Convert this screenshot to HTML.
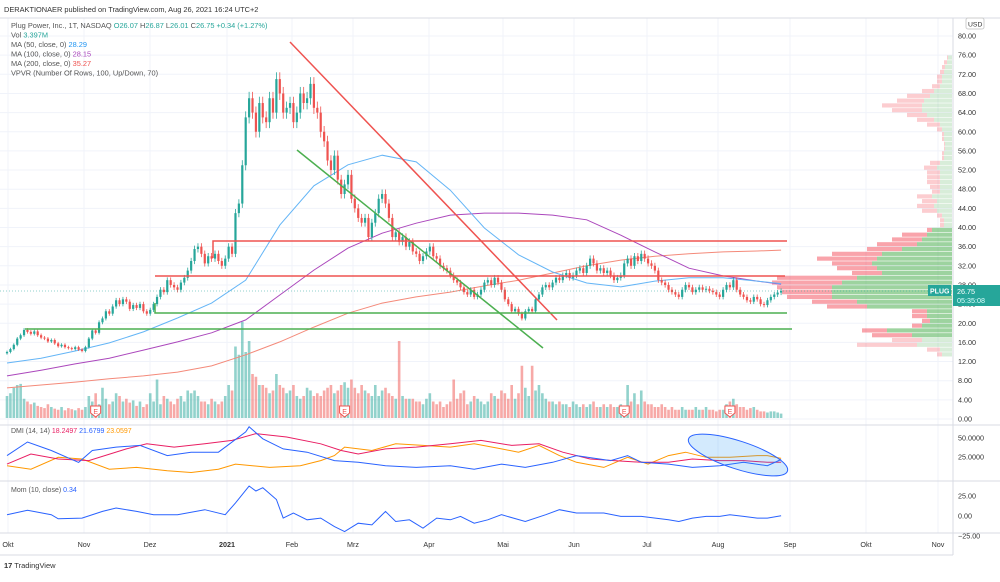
<!DOCTYPE html>
<html><head><meta charset="utf-8"><style>
body{margin:0;background:#fff;font-family:"Liberation Sans",sans-serif}
svg text{font-family:"Liberation Sans",sans-serif}
</style></head><body>
<svg id="c" width="1000" height="577" viewBox="0 0 1000 577" xmlns="http://www.w3.org/2000/svg">
<rect width="1000" height="577" fill="#fff"/>
<text x="4" y="12" font-size="7.4" fill="#333">DERAKTIONAER published on TradingView.com, Aug 26, 2021 16:24 UTC+2</text>
<g id="grid"></g>
<g id="vp"></g>
<g id="vol"></g>
<g id="ma"></g>
<g id="candles"></g>
<g fill="none" stroke-width="1.5">
<line x1="290" y1="42" x2="557" y2="320" stroke="#ef5350"/>
<line x1="297" y1="150" x2="543" y2="348" stroke="#4caf50"/>
<polyline points="213,258 213,241 787,241" stroke="#ef5350"/>
<polyline points="155,276 785,276" stroke="#ef5350"/>
<polyline points="155,303 155,313 787,313" stroke="#4caf50"/>
<polyline points="25,329 792,329" stroke="#4caf50"/>
</g>
<g id="earn"></g>
<g font-size="7.4">
<text x="11" y="28" fill="#555">Plug Power, Inc., 1T, NASDAQ  <tspan fill="#26a69a">O26.07</tspan> <tspan fill="#555">H</tspan><tspan fill="#26a69a">26.87</tspan> <tspan fill="#555">L</tspan><tspan fill="#26a69a">26.01</tspan> <tspan fill="#555">C</tspan><tspan fill="#26a69a">26.75  +0.34 (+1.27%)</tspan></text>
<text x="11" y="37.5" fill="#555">Vol  <tspan fill="#26a69a">3.397M</tspan></text>
<text x="11" y="47" fill="#555">MA (50, close, 0)  <tspan fill="#2196f3">28.29</tspan></text>
<text x="11" y="56.5" fill="#555">MA (100, close, 0)  <tspan fill="#ab47bc">28.15</tspan></text>
<text x="11" y="66" fill="#555">MA (200, close, 0)  <tspan fill="#ef5350">35.27</tspan></text>
<text x="11" y="75.5" fill="#555">VPVR (Number Of Rows, 100, Up/Down, 70)</text>
</g>
<g id="axis" font-size="7.2" fill="#333"></g>
<rect x="966" y="18" width="18" height="11" rx="2" fill="#fff" stroke="#ccc"/>
<text x="968" y="26.5" font-size="6.8" fill="#333">USD</text>
<g>
<line x1="0" y1="291" x2="952" y2="291" stroke="#26a69a" stroke-dasharray="1,2" stroke-width="0.6"/>
<rect x="928" y="285" width="23" height="11" fill="#26a69a"/><text x="930" y="293.5" font-size="7" fill="#fff" font-weight="bold">PLUG</text>
<rect x="953" y="285" width="47" height="21" fill="#26a69a"/><text x="957" y="294" font-size="7.2" fill="#fff">26.75</text><text x="957" y="303" font-size="7.2" fill="#dff">05:35:08</text>
</g>
<g id="dmi"></g>
<ellipse cx="738" cy="455" rx="52" ry="14" transform="rotate(18 738 455)" fill="rgba(33,150,243,0.2)" stroke="#2962ff" stroke-width="1"/>
<text x="11" y="433" font-size="7" fill="#555">DMI (14, 14)  <tspan fill="#e91e63">18.2497</tspan>  <tspan fill="#2962ff">21.6799</tspan>  <tspan fill="#ff9800">23.0597</tspan></text>
<g id="mom"></g>
<text x="11" y="492" font-size="7" fill="#555">Mom (10, close)  <tspan fill="#2962ff">0.34</tspan></text>
<g id="time" font-size="7.2" fill="#333"></g>
<text x="4" y="568" font-size="7.5" fill="#333"><tspan font-weight="bold">17</tspan> TradingView</text>
</svg>
<script>
const closes=[14.0,14.6,15.5,16.8,17.5,18.6,18.2,17.8,18.3,17.5,17.0,16.8,16.2,16.5,15.8,15.2,15.5,15.0,14.8,14.6,15.0,14.5,14.2,15.0,16.8,18.5,18.0,20.2,21.0,22.5,22.0,23.5,24.8,24.0,25.0,24.5,23.0,23.8,23.2,24.0,22.5,22.0,22.8,24.0,25.5,27.0,26.5,29.0,28.0,27.5,27.0,28.5,29.5,31.0,33.0,35.5,36.0,34.5,32.5,34.0,33.5,34.5,33.0,32.0,33.5,36.0,34.5,43,45,53,63,67,64,60,66,63,62,67,64,71,68,64,65,66,62,64,68,66,67,70,65,64,60,58,54,52,55,50,47,49,51,46,44,42,41,42,38,41,43,46,47,45,42,38,39,37,38,36,37,35,34.5,33,34,35,36,34,33.5,32,31.5,31,30,29,28.5,27.5,26.5,26,27,25.5,26,27,28.5,29,28,29.5,28.5,27,25,24,22.5,23,22,21,22.5,23,22.5,25,26,27.5,28,27.5,28.5,29.5,29,30,30.5,29.5,30,31,31.5,30.5,32,33.5,32.5,31,31.5,30.5,31,30,29,29.5,30,32.5,33.5,32,34,33,34.5,33.5,32.5,32,31,29,28.5,28,27,26.5,26,25.5,27,28,27.5,26.5,27,27.5,27,27.2,26.8,26.5,26,25.5,27,28,27.5,29,27,26,25.5,24.8,24.5,25.5,25,24,23.8,24.8,25.5,26,26.41,26.75];
const volumes=[40,45,55,60,62,35,30,25,28,22,20,18,25,20,17,15,20,14,18,16,14,18,15,20,40,30,45,25,55,35,25,30,45,40,30,35,28,32,22,30,20,25,45,30,70,25,40,35,30,25,35,40,30,50,45,50,40,30,30,25,35,30,25,30,40,60,50,130,115,175,120,140,80,75,60,60,55,45,50,80,60,55,45,50,60,40,35,40,55,50,40,45,40,50,55,60,45,50,60,65,55,70,55,45,60,50,45,40,60,40,50,55,45,40,35,140,40,35,35,35,30,30,25,35,45,30,25,30,20,25,30,70,35,45,50,25,30,40,35,30,25,30,45,40,35,50,45,35,60,35,45,95,55,40,95,50,60,45,35,30,30,25,30,25,25,20,30,25,20,25,20,25,30,20,20,25,20,25,20,20,25,20,60,30,45,25,50,30,25,25,20,20,25,20,15,20,15,15,20,15,15,15,20,15,15,20,15,15,12,15,15,25,30,35,25,20,20,15,18,20,15,12,12,10,12,12,10,8];
const maDays=[0,10,20,30,40,50,60,70,80,90,100,110,120,130,140,150,160,170,180,190,200,210,220,227];
const ma50=[11.7,12.7,14.2,15.9,18.2,21.1,24.2,29.0,40.5,48.7,53.1,55.1,53.7,47.8,39.9,34.3,30.7,28.4,27.6,28.8,29.5,29.5,28.8,28.29];
const ma100=[9.0,10.2,11.5,12.7,14.4,16.1,18.0,20.7,25.9,31.1,35.7,38.8,40.9,42.6,43.0,43.0,42.6,41.6,38.4,34.9,31.5,29.9,28.8,28.15];
const ma200=[6.5,7.1,7.7,8.4,9.0,9.8,11.1,13.4,16.1,19.2,22.1,24.2,25.5,26.5,27.8,29.0,30.5,32.0,33.2,34.0,34.5,34.9,35.1,35.27];
const vpPrices=[13,14,15,16,17,18,19,20,21,22,23,24,25,26,27,28,29,30,31,32,33,34,35,36,37,38,39,40,41,42,43,44,45,46,47,48,49,50,51,52,53,54,55,56,57,58,59,60,61,62,63,64,65,66,67,68,69,70,71,72,73,74,75];
const vpUp=[10,12,35,30,40,65,30,22,25,25,85,95,120,120,120,110,95,70,75,80,75,70,50,35,30,25,20,8,8,10,15,18,15,20,12,12,12,12,12,15,12,8,8,7,7,8,8,10,12,18,25,30,30,28,22,18,12,10,10,8,7,5,4];
const vpDown=[5,13,60,30,40,25,10,8,15,15,40,45,45,50,55,70,80,30,40,40,60,50,35,40,30,25,5,4,4,5,15,17,15,15,8,10,13,13,13,13,10,2,2,1,1,2,2,5,13,17,20,30,40,27,23,12,8,5,5,4,3,3,1];
const dmiBlueDays=[0,6,13,21,25,32,39,47,54,62,70,71,75,81,88,96,103,111,120,130,137,145,152,160,167,177,182,186,194,201,209,216,223,227];
const dmiBlue=[26.8,44.7,33.5,17.9,33.5,38,40.2,26.8,31.3,31.3,58,64.7,49,35.7,31.3,20.2,18,13.5,11.3,13.5,9,15.7,11.3,18,26.8,20.2,26.8,18,15.7,11.3,13.5,18,13.5,21.7];
const dmiPinkDays=[0,7,15,24,35,41,49,58,66,73,82,92,98,103,111,120,130,139,148,156,163,171,178,186,194,201,209,216,223,227];
const dmiPink=[15.7,29,22.4,20.2,35.7,42.4,38,42.4,46.9,55.8,51.3,42.4,33.5,29,35.7,38,42.4,46.9,40.2,42.4,31.3,22.4,20.2,18,18,22.4,20.2,20.2,18,18.2];
const dmiOrangeDays=[0,7,15,22,30,38,47,54,62,67,77,86,92,96,99,107,114,122,130,137,145,150,156,162,167,175,182,188,194,199,205,212,220,223,227];
const dmiOrange=[13.5,9,24.6,22.4,9,11.3,6.8,4.6,9,15.7,11.3,13.5,20.2,26.8,38,33.5,42.4,40.2,38,42.4,35.7,31.3,40.2,26.8,18,11.3,24.6,15.7,26.8,31.3,24.6,24.6,26.8,26.8,23.1];
const momDays=[0,6,13,15,22,28,32,38,43,50,58,64,67,71,73,75,79,81,84,88,92,96,99,103,107,111,114,118,122,126,130,133,137,141,145,152,158,162,167,175,180,186,194,197,201,205,209,212,216,220,223,227];
const momVals=[1.6,7.1,1.6,-3.5,-2.6,5.8,10,5.8,1.6,1.6,7.9,1.6,16.4,37.5,31.2,35.4,20.6,-2.6,3.7,-4.8,-2.6,-13.2,-19.5,-9,-11.1,5.8,-6.9,-4.8,-15.3,-2.6,-4.8,-0.5,-9,-4.8,1.6,-6.9,1.6,7.9,3.7,3.7,-0.5,-0.5,-4.8,-6.9,-2.6,-0.5,-0.5,1.6,-0.5,-2.6,-2.6,0.34];
const priceTicks=[0,4,8,12,16,20,24,28,32,36,40,44,48,52,56,60,64,68,72,76,80];
const monthLabels=["Okt","Nov","Dez","2021","Feb","Mrz","Apr","Mai","Jun","Jul","Aug","Sep","Okt","Nov"];
const monthX=[8,84,150,227,292,353,429,503,574,647,718,790,866,938];
const earningsDays=[26,99,181,212];

const NS="http://www.w3.org/2000/svg";
function mk(tag,attrs,parent){const e=document.createElementNS(NS,tag);for(const k in attrs)e.setAttribute(k,attrs[k]);parent.appendChild(e);return e;}
const X=d=>7+d*3.41;
const Y=p=>419-p*4.7875;
const YD=v=>476-v*0.76;
const YM=v=>516-v*0.8;
const g=id=>document.getElementById(id);

const grid=g('grid');
priceTicks.forEach(p=>{const l=mk('line',{x1:0,x2:953,y1:Y(p),y2:Y(p),stroke:'#f0f3fa','stroke-width':1},grid);

});
monthX.forEach(x=>{const l=mk('line',{x1:x,x2:x,y1:18,y2:533,stroke:'#f0f3fa','stroke-width':1},grid);

});
[[0,18,1000,18],[953,18,953,555],[0,425,1000,425],[0,481,1000,481],[0,533,1000,533],[0,555,953,555]].forEach(a=>{const l=mk('line',{x1:a[0],y1:a[1],x2:a[2],y2:a[3],stroke:'#d8dbe3','stroke-width':1},grid);

});

const ax=g('axis');
priceTicks.forEach(p=>{const t=mk('text',{x:958,y:Y(p)+2.5},ax);t.textContent=p.toFixed(2);

});

const vp=g('vp');
vpPrices.forEach((p,i)=>{const y=Y(p+1)+0.3,h=4.79-0.6;const va=p>=17&&p<=39;
const u=mk('rect',{x:952-vpUp[i],y:y,width:vpUp[i],height:h,fill:va?'rgba(76,175,80,0.55)':'rgba(76,175,80,0.22)'},vp);


const d=mk('rect',{x:952-vpUp[i]-vpDown[i],y:y,width:vpDown[i],height:h,fill:va?'rgba(242,54,69,0.45)':'rgba(242,54,69,0.25)'},vp);

});

const vg=g('vol'),cg=g('candles');
closes.forEach((c,i)=>{const o=i?closes[i-1]:c*0.98;const up=c>=o;const x=X(i);
const v=mk('rect',{x:x-1.3,y:418-volumes[i]*0.55,width:2.6,height:volumes[i]*0.55,fill:up?'rgba(38,166,154,0.5)':'rgba(239,83,80,0.5)'},vg);


const col=up?'#26a69a':'#ef5350';const hi=Math.max(o,c)*1.02,lo=Math.min(o,c)*0.98;
const w=mk('line',{x1:x,x2:x,y1:Y(hi),y2:Y(lo),stroke:col,'stroke-width':0.8},cg);


const b=mk('rect',{x:x-1.1,y:Y(Math.max(o,c)),width:2.2,height:Math.max(0.8,Math.abs(Y(o)-Y(c))),fill:col},cg);

});

const eg=g('earn');
earningsDays.forEach(d=>{const x=X(d);const r=mk('path',{d:`M${x-5},406 h10 v7 l-5,4 l-5,-4 z`,fill:'#fff',stroke:'#ef5350','stroke-width':1},eg);


const t=mk('text',{x:x-2.3,y:414,'font-size':7,fill:'#ef5350'},eg);t.textContent='E';});

function line(parent,days,vals,fy,color,name,w){const pts=days.map((d,i)=>X(d).toFixed(1)+','+fy(vals[i]).toFixed(1)).join(' ');
const p=mk('polyline',{points:pts,fill:'none',stroke:color,'stroke-width':w||1},parent);

}
const mg=g('ma');
line(mg,maDays,ma200,Y,'#f48a7a','ma-200-line');
line(mg,maDays,ma100,Y,'#ab47bc','ma-100-line');
line(mg,maDays,ma50,Y,'#64b5f6','ma-50-line');

const dg=g('dmi');
[['50.0000',50],['25.0000',25]].forEach(a=>{const t=mk('text',{x:958,y:YD(a[1])+2.5,'font-size':7.2,fill:'#333'},dg);t.textContent=a[0];

});
line(dg,dmiOrangeDays,dmiOrange,YD,'#ff9800','dmi-adx-line');
line(dg,dmiPinkDays,dmiPink,YD,'#e91e63','dmi-plus-line');
line(dg,dmiBlueDays,dmiBlue,YD,'#2962ff','dmi-minus-line');

const og=g('mom');
[['25.00',25],['0.00',0],['−25.00',-25]].forEach(a=>{const t=mk('text',{x:958,y:YM(a[1])+2.5,'font-size':7.2,fill:'#333'},og);t.textContent=a[0];

});
line(og,momDays,momVals,YM,'#2962ff','momentum-line');

const tg=g('time');
monthLabels.forEach((m,i)=>{const t=mk('text',{x:monthX[i],y:547,'text-anchor':'middle','font-weight':m==='2021'?'bold':'normal'},tg);t.textContent=m;

});
</script>
</body></html>
